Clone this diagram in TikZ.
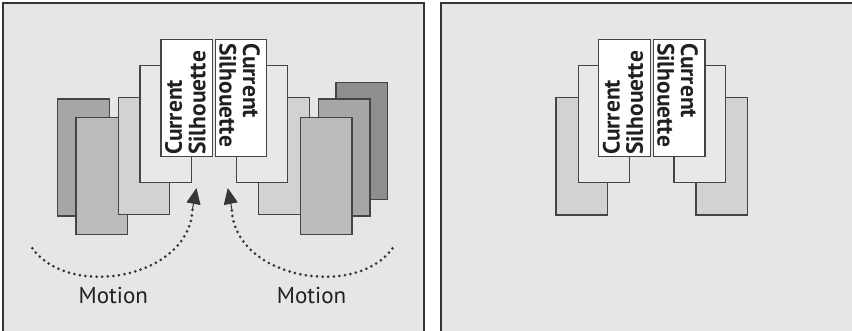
\documentclass[tikz,border=0pt]{standalone}
\usepackage{fontspec}
\setmainfont{PT Sans}
\usetikzlibrary{arrows.meta}
\definecolor{bg}{HTML}{E6E6E6}
\definecolor{cdarkest}{HTML}{8E8E90}
\definecolor{cdark}{HTML}{A6A6A8}
\definecolor{cmid}{HTML}{BCBCBE}
\definecolor{clight}{HTML}{D2D2D4}
\definecolor{cpale}{HTML}{E8E8E8}
\definecolor{edge}{HTML}{444444}
\definecolor{ink}{HTML}{231F20}
\tikzset{
  panel/.style={draw=ink!90, line width=1.5pt, fill=bg},
  frame/.style={draw=edge, line width=1.3pt, fill=#1},
  sil/.style={inner sep=0pt, align=left, text=ink, font=\fontsize{23.5}{23.3}\selectfont\bfseries},
  motionlbl/.style={inner sep=0pt, text=ink, font=\fontsize{23}{26}\selectfont},
  motion/.style={draw=ink!90, line width=3pt, line cap=round, dash pattern=on 0pt off 5.6pt},
  motiontip/.style={draw=ink!90, fill=ink!90, line width=1pt, solid,
     -{Triangle[length=16pt,width=14pt,fill=ink!90]}}
}
\begin{document}
\begin{tikzpicture}[x=1pt,y=-1pt]
\useasboundingbox (0,0) rectangle (852,331);
% panels
\path[panel] (3,3) rectangle (424,331.3);
\path[panel] (441,3) rectangle (860,331.3);
% left panel, left stack
\path[frame=cdark] (57.7,99) rectangle (109.3,216);
\path[frame=cmid] (76,117.3) rectangle (127.3,234.7);
\path[frame=clight] (118.3,97.7) rectangle (169.3,214.7);
\path[frame=cpale] (140,65.3) rectangle (191.7,182.7);
\path[frame=white] (161,39.3) rectangle (212.3,156.7);
% left panel, right stack
\path[frame=cdarkest] (336,82.7) rectangle (387.7,199.3);
\path[frame=cdark] (318.7,99) rectangle (370,216);
\path[frame=clight] (258.3,97.7) rectangle (309.3,214.7);
\path[frame=cmid] (300.7,117.3) rectangle (352,234.7);
\path[frame=cpale] (236.3,65.3) rectangle (287.3,182.7);
\path[frame=white] (215.7,39.3) rectangle (266.7,156.7);
% texts panel 1
\node[sil, rotate=90, anchor=north west] (s1) at (165,155) {Current\\Silhouette};
\node[sil, rotate=-90, anchor=north west] (s2) at (260,43) {Current\\Silhouette};
% motion arrows
\coordinate (ls) at (32.3,248.3);
\coordinate (lm) at (192.5,209);
\coordinate (lt) at (196.5,188);
\coordinate (rs) at (392.5,248.3);
\coordinate (rm) at (231.8,209);
\coordinate (rt) at (227.8,188);
\draw[motion] (ls) .. controls (70,300) and (190,278) .. (lm);
\draw[motiontip] (lm) -- (lt);
\draw[motion] (rs) .. controls (355,300) and (234,278) .. (rm);
\draw[motiontip] (rm) -- (rt);
\node[motionlbl] (m1) at (113.3,295) {Motion};
\node[motionlbl] (m2) at (311.5,295) {Motion};
% right panel
\path[frame=clight] (556,97.7) rectangle (607.7,215);
\path[frame=cpale] (578.3,65.3) rectangle (629.3,182.7);
\path[frame=white] (598.7,39.3) rectangle (650.3,156.7);
\path[frame=clight] (696,97.7) rectangle (747.7,215);
\path[frame=cpale] (674,65.3) rectangle (725.3,182.7);
\path[frame=white] (653.3,39.3) rectangle (705,156.7);
\node[sil, rotate=90, anchor=north west] (s3) at (602.7,155) {Current\\Silhouette};
\node[sil, rotate=-90, anchor=north west] (s4) at (698,43) {Current\\Silhouette};
\end{tikzpicture}
\end{document}
